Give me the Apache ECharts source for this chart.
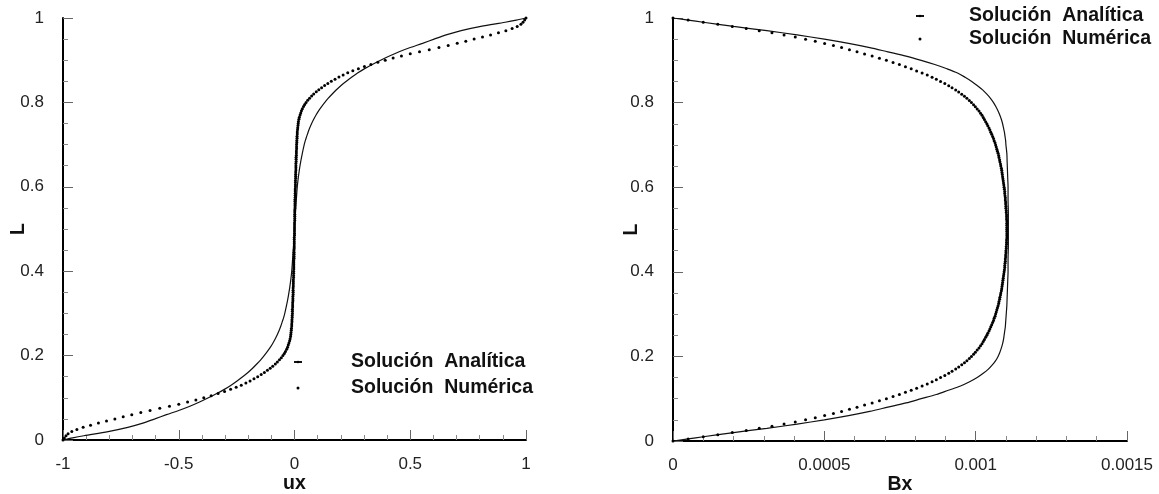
<!DOCTYPE html>
<html><head><meta charset="utf-8">
<script src="https://cdn.jsdelivr.net/npm/echarts/dist/echarts.min.js"></script>
<style>html,body{margin:0;padding:0;background:#fff}#c{width:1159px;height:494px}</style>
</head><body><div id="c"></div><script>
// ---- data ----
const seriesNames = ['Solución  Analítica', 'Solución  Numérica'];
const axisNames = { ux: 'ux', bx: 'Bx', L: 'L' };

// numerical solution: L grid
const L_num = [
0,0.005,0.01,0.015,0.02,0.025,0.03,0.035,0.04,0.045,
0.05,0.055,0.06,0.065,0.07,0.075,0.08,0.085,0.09,0.095,
0.1,0.105,0.11,0.115,0.12,0.125,0.13,0.135,0.14,0.145,
0.15,0.155,0.16,0.165,0.17,0.175,0.18,0.185,0.19,0.195,
0.2,0.205,0.21,0.215,0.22,0.225,0.23,0.235,0.24,0.245,
0.25,0.255,0.26,0.265,0.27,0.275,0.28,0.285,0.29,0.295,
0.3,0.305,0.31,0.315,0.32,0.325,0.33,0.335,0.34,0.345,
0.35,0.355,0.36,0.365,0.37,0.375,0.38,0.385,0.39,0.395,
0.4,0.405,0.41,0.415,0.42,0.425,0.43,0.435,0.44,0.445,
0.45,0.455,0.46,0.465,0.47,0.475,0.48,0.485,0.49,0.495,
0.5,0.505,0.51,0.515,0.52,0.525,0.53,0.535,0.54,0.545,
0.55,0.555,0.56,0.565,0.57,0.575,0.58,0.585,0.59,0.595,
0.6,0.605,0.61,0.615,0.62,0.625,0.63,0.635,0.64,0.645,
0.65,0.655,0.66,0.665,0.67,0.675,0.68,0.685,0.69,0.695,
0.7,0.705,0.71,0.715,0.72,0.725,0.73,0.735,0.74,0.745,
0.75,0.755,0.76,0.765,0.77,0.775,0.78,0.785,0.79,0.795,
0.8,0.805,0.81,0.815,0.82,0.825,0.83,0.835,0.84,0.845,
0.85,0.855,0.86,0.865,0.87,0.875,0.88,0.885,0.89,0.895,
0.9,0.905,0.91,0.915,0.92,0.925,0.93,0.935,0.94,0.945,
0.95,0.955,0.96,0.965,0.97,0.975,0.98,0.985,0.99,0.995,
1];
const ux_num = [
-1,-0.994,-0.987,-0.978,-0.962,-0.94,-0.913,-0.881,-0.847,-0.812,
-0.776,-0.74,-0.703,-0.664,-0.624,-0.582,-0.54,-0.5,-0.462,-0.426,
-0.392,-0.36,-0.33,-0.302,-0.276,-0.252,-0.23,-0.21,-0.192,-0.175,
-0.159,-0.144,-0.13,-0.117,-0.105,-0.094,-0.083,-0.074,-0.065,-0.057,
-0.05,-0.044,-0.039,-0.034,-0.03,-0.027,-0.024,-0.021,-0.019,-0.017,
-0.016,-0.015,-0.014,-0.013,-0.012,-0.012,-0.011,-0.011,-0.01,-0.01,
-0.009,-0.009,-0.009,-0.008,-0.008,-0.008,-0.007,-0.007,-0.007,-0.006,
-0.006,-0.006,-0.006,-0.005,-0.005,-0.005,-0.005,-0.004,-0.004,-0.004,
-0.004,-0.003,-0.003,-0.003,-0.003,-0.003,-0.002,-0.002,-0.002,-0.002,
-0.002,-0.001,-0.001,-0.001,-0.001,-0.001,-0.001,0,0,0,
0,
0,0,0,0.001,0.001,0.001,0.001,0.001,0.001,0.002,
0.002,0.002,0.002,0.002,0.003,0.003,0.003,0.003,0.003,0.004,
0.004,0.004,0.004,0.005,0.005,0.005,0.005,0.006,0.006,0.006,
0.006,0.007,0.007,0.007,0.008,0.008,0.008,0.009,0.009,0.009,
0.01,0.01,0.011,0.011,0.012,0.012,0.013,0.014,0.015,0.016,
0.017,0.019,0.021,0.024,0.027,0.03,0.034,0.039,0.044,0.05,
0.057,0.065,0.074,0.083,0.094,0.105,0.117,0.13,0.144,0.159,
0.175,0.192,0.21,0.23,0.252,0.276,0.302,0.33,0.36,0.392,
0.426,0.462,0.5,0.54,0.582,0.624,0.664,0.703,0.74,0.776,
0.812,0.847,0.881,0.913,0.94,0.962,0.978,0.987,0.994,1];
const bx_num = [
0,0.00005,0.0001,0.000148,0.000196,0.000242,0.000285,0.000327,0.000367,0.000404,
0.000438,0.00047,0.000501,0.00053,0.000557,0.000583,0.000608,0.000633,0.000658,0.000682,
0.000705,0.000727,0.000748,0.000768,0.000787,0.000805,0.000823,0.00084,0.000856,0.00087,
0.000884,0.000898,0.000911,0.000922,0.000934,0.000944,0.000954,0.000963,0.000971,0.000979,
0.000986,0.000993,0.000999,0.001005,0.001011,0.001016,0.001021,0.001025,0.001029,0.001033,
0.001037,0.00104,0.001044,0.001047,0.00105,0.001053,0.001056,0.001059,0.001061,0.001064,
0.001066,0.001068,0.00107,0.001072,0.001074,0.001076,0.001077,0.001079,0.00108,0.001082,
0.001083,0.001085,0.001086,0.001087,0.001088,0.001089,0.00109,0.001091,0.001092,0.001093,
0.001094,0.001095,0.001096,0.001096,0.001097,0.001098,0.001098,0.001099,0.001099,0.0011,
0.0011,0.001101,0.001101,0.001102,0.001102,0.001102,0.001103,0.001103,0.001103,0.001103,
0.001103,
0.001103,0.001103,0.001103,0.001103,0.001102,0.001102,0.001102,0.001101,0.001101,0.0011,
0.0011,0.001099,0.001099,0.001098,0.001098,0.001097,0.001096,0.001096,0.001095,0.001094,
0.001093,0.001092,0.001091,0.00109,0.001089,0.001088,0.001087,0.001086,0.001085,0.001083,
0.001082,0.00108,0.001079,0.001077,0.001076,0.001074,0.001072,0.00107,0.001068,0.001066,
0.001064,0.001061,0.001059,0.001056,0.001053,0.00105,0.001047,0.001044,0.00104,0.001037,
0.001033,0.001029,0.001025,0.001021,0.001016,0.001011,0.001005,0.000999,0.000993,0.000986,
0.000979,0.000971,0.000963,0.000954,0.000944,0.000934,0.000922,0.000911,0.000898,0.000884,
0.00087,0.000856,0.00084,0.000823,0.000805,0.000787,0.000768,0.000748,0.000727,0.000705,
0.000682,0.000658,0.000633,0.000608,0.000583,0.000557,0.00053,0.000501,0.00047,0.000438,
0.000404,0.000367,0.000327,0.000285,0.000242,0.000196,0.000148,0.0001,0.00005,0];

// analytical solution
const L_ana = [
0,0.005,0.01,0.02,0.03,0.04,0.05,0.06,0.07,0.08,0.09,0.1,
0.11,0.12,0.13,0.14,0.15,0.16,0.17,0.18,0.19,0.2,
0.21,0.22,0.23,0.24,0.25,0.26,0.27,0.28,0.29,0.3,
0.32,0.34,0.36,0.38,0.4,0.43,0.46,0.5,
0.54,0.57,0.6,0.62,0.64,0.66,0.68,
0.7,0.71,0.72,0.73,0.74,0.75,0.76,0.77,0.78,0.79,
0.8,0.81,0.82,0.83,0.84,0.85,0.86,0.87,0.88,0.89,
0.9,0.91,0.92,0.93,0.94,0.95,0.96,0.97,0.98,0.99,0.995,1];
const ux_ana = [
-1,-0.958,-0.91,-0.805,-0.72,-0.655,-0.603,-0.553,-0.5,-0.452,-0.41,-0.372,
-0.336,-0.303,-0.274,-0.248,-0.224,-0.201,-0.181,-0.163,-0.146,-0.131,
-0.117,-0.104,-0.093,-0.083,-0.074,-0.066,-0.059,-0.053,-0.047,-0.042,
-0.034,-0.027,-0.021,-0.016,-0.012,-0.008,-0.004,0,
0.004,0.008,0.012,0.016,0.021,0.027,0.034,
0.042,0.047,0.053,0.059,0.066,0.074,0.083,0.093,0.104,0.117,
0.131,0.146,0.163,0.181,0.201,0.224,0.248,0.274,0.303,0.336,
0.372,0.41,0.452,0.5,0.553,0.603,0.655,0.72,0.805,0.91,0.958,1];
const bx_ana = [
0,0.00005,0.0001,0.0002,0.00031,0.00041,0.0005,0.00058,0.00065,0.00071,0.00077,0.00082,
0.00087,0.00091,0.00095,0.00098,0.001005,0.001025,0.001042,0.001055,0.001066,0.001074,
0.00108,0.001085,0.001089,0.001092,0.001094,0.001096,0.001098,0.001099,0.0011,0.001101,
0.001103,0.001104,0.001105,0.001106,0.001107,0.001107,0.001108,0.001108,
0.001108,0.001107,0.001107,0.001106,0.001105,0.001104,0.001103,
0.0011,0.001099,0.001097,0.001095,0.001092,0.001089,0.001085,0.00108,0.001074,0.001067,
0.001059,0.001049,0.001037,0.001023,0.001006,0.000987,0.000965,0.00094,0.000905,0.000865,
0.00082,0.00077,0.00071,0.00065,0.00058,0.0005,0.00041,0.00031,0.0002,0.0001,0.00005,0];

// ---- chart ----
const FONT = '"Liberation Sans", Arial, Helvetica, sans-serif';
const pair = (xs, ys) => ys.map((y, i) => [xs[i], y]);

function xAxis(gi, min, max, interval, name) {
  return {
    gridIndex: gi, type: 'value', min, max, interval,
    name, nameLocation: 'middle', nameGap: 34, nameMoveOverlap: false,
    nameTextStyle: { fontFamily: FONT, fontSize: 19.5, fontWeight: 'bold', color: '#111' },
    axisLine: { onZero: false, lineStyle: { color: '#000', width: 2 } },
    axisTick: { inside: true, length: 10, lineStyle: { color: '#666', width: 1 } },
    minorTick: { show: true, splitNumber: 5, length: 5, lineStyle: { color: '#888', width: 1 } },
    axisLabel: { fontFamily: FONT, fontSize: 17, color: '#222', margin: 16 },
    splitLine: { show: false }, minorSplitLine: { show: false }
  };
}
function yAxis(gi, gap) {
  return {
    gridIndex: gi, type: 'value', min: 0, max: 1, interval: 0.2,
    name: axisNames.L, nameLocation: 'middle', nameGap: gap, nameRotate: 90, nameMoveOverlap: false,
    nameTextStyle: { fontFamily: FONT, fontSize: 19.5, fontWeight: 'bold', color: '#111' },
    axisLine: { onZero: false, lineStyle: { color: '#000', width: 2 } },
    axisTick: { inside: true, length: 10, lineStyle: { color: '#666', width: 1 } },
    minorTick: { show: true, splitNumber: 4, length: 5, lineStyle: { color: '#888', width: 1 } },
    axisLabel: { fontFamily: FONT, fontSize: 17, color: '#222', margin: 19 },
    splitLine: { show: false }, minorSplitLine: { show: false }
  };
}
function legend(left, top, gap, pad) {
  return {
    orient: 'vertical', left, top, itemWidth: 8, itemHeight: 3, itemGap: gap,
    selectedMode: false, data: seriesNames,
    lineStyle: { width: 2 },
    textStyle: { fontFamily: FONT, fontSize: 19.5, fontWeight: 'bold', color: '#111', padding: [0, 0, 0, pad] }
  };
}
function lineSeries(xi, data) {
  return { name: seriesNames[0], type: 'line', xAxisIndex: xi, yAxisIndex: xi, data,
    symbol: 'none', showSymbol: false, smooth: 0.3, color: '#000',
    lineStyle: { color: '#111', width: 1.2 }, itemStyle: { color: '#000' }, z: 2, silent: true };
}
function dotSeries(xi, data) {
  return { name: seriesNames[1], type: 'scatter', xAxisIndex: xi, yAxisIndex: xi, data,
    symbol: 'circle', symbolSize: 3, color: '#000', itemStyle: { color: '#000', opacity: 1 }, z: 3, silent: true };
}

const chart = echarts.init(document.getElementById('c'), null, { renderer: 'canvas' });
chart.setOption({
  animation: false,
  backgroundColor: '#fff',
  grid: [
    { left: 63, right: 633, top: 18, bottom: 54, outerBoundsMode: 'none', containLabel: false },
    { left: 673, right: 32, top: 18, bottom: 53, outerBoundsMode: 'none', containLabel: false }
  ],
  xAxis: [xAxis(0, -1, 1, 0.5, axisNames.ux), xAxis(1, 0, 0.0015, 0.0005, axisNames.bx)],
  yAxis: [yAxis(0, 34), yAxis(1, 31)],
  legend: [legend(288, 347, 6, 44), legend(910, 1, 3, 40)],
  series: [
    lineSeries(0, pair(ux_ana, L_ana)),
    dotSeries(0, pair(ux_num, L_num)),
    lineSeries(1, pair(bx_ana, L_ana)),
    dotSeries(1, pair(bx_num, L_num))
  ]
});
</script></body></html>
